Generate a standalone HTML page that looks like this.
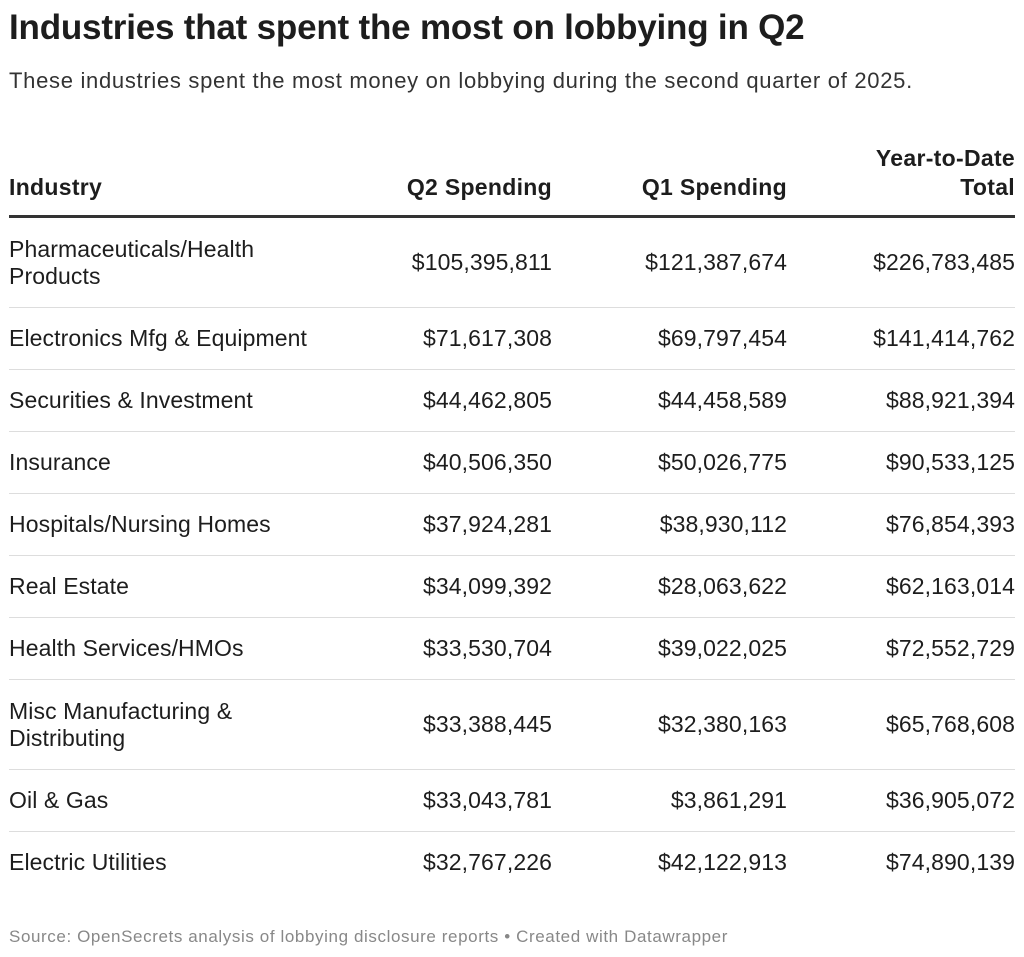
<!DOCTYPE html>
<html><head><meta charset="utf-8"><style>
body{margin:0;width:1024px;height:957px;background:#fff;font-family:"Liberation Sans",Arial,sans-serif;color:#1d1d1d;position:relative;overflow:hidden}
.t{position:absolute;left:9px;top:8px;font-size:35px;font-weight:bold;letter-spacing:-0.2px}
.s{position:absolute;left:9px;top:68px;font-size:22px;letter-spacing:0.7px;color:#333}
.h{position:absolute;font-size:23px;letter-spacing:0.3px;font-weight:bold;text-align:right;line-height:29px}
.hl{position:absolute;left:9px;right:9px;top:215px;height:3px;background:#333}
.row{position:absolute;left:9px;right:9px;border-bottom:1px solid #ddd}
.row.last{border-bottom:none}
.c{position:absolute;top:0;bottom:0;display:flex;align-items:center;font-size:23px;letter-spacing:0.1px;line-height:27px}
.c0{left:0;width:305px}
.c1{right:463px;justify-content:flex-end}
.c2{right:228px;justify-content:flex-end}
.c3{right:0;justify-content:flex-end}
.src{position:absolute;left:9px;top:927px;font-size:17px;letter-spacing:0.6px;color:#888}
</style></head><body>
<div class="t">Industries that spent the most on lobbying in Q2</div>
<div class="s">These industries spent the most money on lobbying during the second quarter of 2025.</div>
<div class="h" style="left:9px;top:173px;text-align:left">Industry</div>
<div class="h" style="right:472px;top:173px">Q2 Spending</div>
<div class="h" style="right:237px;top:173px">Q1 Spending</div>
<div class="h" style="right:9px;top:144px">Year-to-Date<br>Total</div>
<div class="hl"></div>
<div id="tbl"></div>
<div class="src">Source: OpenSecrets analysis of lobbying disclosure reports • Created with Datawrapper</div>
<script>
const industries=["Pharmaceuticals/Health Products","Electronics Mfg & Equipment","Securities & Investment","Insurance","Hospitals/Nursing Homes","Real Estate","Health Services/HMOs","Misc Manufacturing & Distributing","Oil & Gas","Electric Utilities"];
const q2=["$105,395,811","$71,617,308","$44,462,805","$40,506,350","$37,924,281","$34,099,392","$33,530,704","$33,388,445","$33,043,781","$32,767,226"];
const q1=["$121,387,674","$69,797,454","$44,458,589","$50,026,775","$38,930,112","$28,063,622","$39,022,025","$32,380,163","$3,861,291","$42,122,913"];
const ytd=["$226,783,485","$141,414,762","$88,921,394","$90,533,125","$76,854,393","$62,163,014","$72,552,729","$65,768,608","$36,905,072","$74,890,139"];
const tall=[true,false,false,false,false,false,false,true,false,false];
const tb=document.getElementById('tbl');
let y=218;
industries.forEach((n,i)=>{
 const h=tall[i]?90:62;
 const r=document.createElement('div');
 r.className='row'+(i===industries.length-1?' last':'');r.style.top=y+'px';r.style.height=(h-1)+'px';
 
 
 [[n,'c0'],[q2[i],'c1'],[q1[i],'c2'],[ytd[i],'c3']].forEach(([v,c],j)=>{
  const d=document.createElement('div');d.className='c '+c;d.textContent=v;
  
  
  r.appendChild(d);
 });
 tb.appendChild(r);y+=h;
});
</script>
</body></html>
